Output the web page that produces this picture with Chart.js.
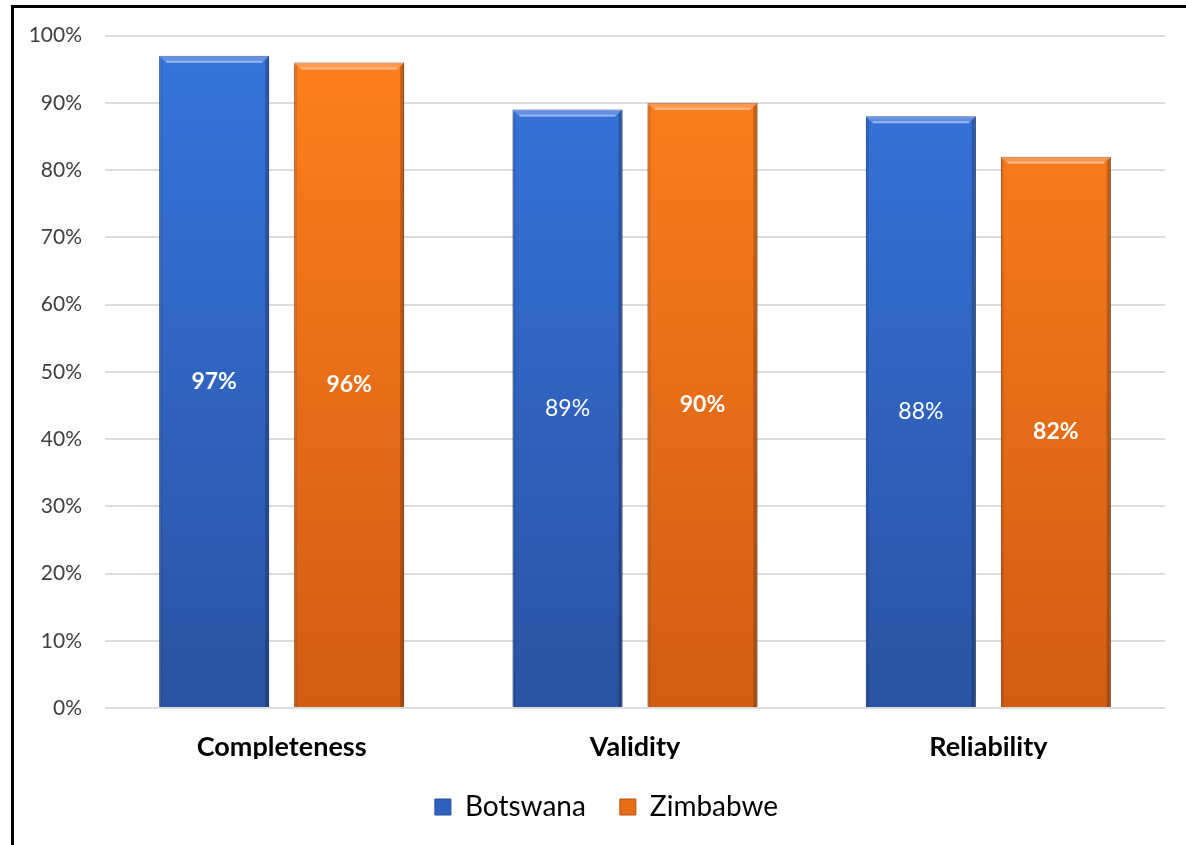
<!DOCTYPE html>
<html>
<head>
<meta charset="utf-8">
<script src="https://cdn.jsdelivr.net/npm/chart.js@4.4.0/dist/chart.umd.min.js"></script>
<style>
  html, body { margin: 0; padding: 0; background: #fff; }
  #wrap { width: 1186px; height: 845px; position: relative; }
</style>
</head>
<body>
<div id="wrap"><canvas id="myChart" width="1186" height="845"></canvas></div>
<script>
let labels = ['Completeness', 'Validity', 'Reliability'];
let botswana = [97, 89, 88];
let zimbabwe = [96, 90, 82];
let seriesNames = ['Botswana', 'Zimbabwe'];
// which value labels are printed in bold, per series
let boldLabels = [[true, false, false], [true, true, true]];

let gradTop = ['#3675de', '#ff801d'];
let gradBottom = ['#2a53a3', '#d15d13'];
let edgeColor = ['#254a92', '#b8500f'];
let legendFill = ['#2f62c0', '#e86d17'];
let fontFamily = 'Lato, "Open Sans", sans-serif';

function barFill(context) {
  let i = context.datasetIndex;
  let area = context.chart.chartArea;
  if (!area) return legendFill[i];
  let g = context.chart.ctx.createLinearGradient(0, area.top, 0, area.bottom);
  g.addColorStop(0, gradTop[i]);
  g.addColorStop(1, gradBottom[i]);
  return g;
}

// black frame along the top and left edges
const framePlugin = {
  id: 'frame',
  afterLayout(chart) {
    // keep the legend centred on the framed box rather than the canvas
    if (chart.legend) chart.legend.left += 48;
  },
  afterDraw(chart) {
    const c = chart.ctx;
    c.save();
    c.fillStyle = '#000';
    c.fillRect(11, 5, chart.width - 11, 3);
    c.fillRect(11, 5, 3, chart.height - 5);
    c.restore();
  }
};

// soft shadow under the bars, bevel edges on top, value labels in the middle
const bevelPlugin = {
  id: 'bevel',
  beforeDatasetsDraw(chart) {
    const c = chart.ctx;
    c.save();
    c.shadowColor = 'rgba(0,0,0,0.28)';
    c.shadowBlur = 7;
    c.shadowOffsetX = 1;
    c.shadowOffsetY = 1;
  },
  afterDatasetsDraw(chart) {
    const c = chart.ctx;
    c.restore();
    chart.data.datasets.forEach((ds, di) => {
      const meta = chart.getDatasetMeta(di);
      meta.data.forEach((bar, j) => {
        const l = bar.x - bar.width / 2, r = bar.x + bar.width / 2;
        const t = bar.y, b = bar.base;
        const bv = 7;
        c.save();
        // top bevel
        c.beginPath();
        c.moveTo(l, t); c.lineTo(r, t); c.lineTo(r - bv, t + bv); c.lineTo(l + bv, t + bv);
        c.closePath();
        c.fillStyle = 'rgba(255,255,255,0.22)';
        c.fill();
        c.fillStyle = 'rgba(255,255,255,0.35)';
        c.fillRect(l + bv, t + bv - 2, bar.width - 2 * bv, 2);
        // right edge
        c.beginPath();
        c.moveTo(r, t); c.lineTo(r, b); c.lineTo(r - 4, b); c.lineTo(r - 4, t + 4);
        c.closePath();
        c.fillStyle = 'rgba(0,0,0,0.22)';
        c.fill();
        // left edge
        c.fillStyle = 'rgba(0,0,0,0.10)';
        c.fillRect(l, t + 3, 3, b - t - 3);
        c.restore();

        // value label
        c.save();
        c.fillStyle = '#fff';
        c.font = (boldLabels[di][j] ? 'bold ' : '') + '23px ' + fontFamily;
        c.textAlign = 'center';
        c.textBaseline = 'middle';
        c.fillText(ds.data[j] + '%', bar.x, (t + b) / 2);
        c.restore();
      });
    });
  }
};

let ctx = document.getElementById('myChart').getContext('2d');

let myChart = new Chart(ctx, {
  type: 'bar',
  data: {
    labels: labels,
    datasets: [{
      label: seriesNames[0],
      data: botswana,
      backgroundColor: barFill,
      borderColor: edgeColor[0],
      borderWidth: 1
    }, {
      label: seriesNames[1],
      data: zimbabwe,
      backgroundColor: barFill,
      borderColor: edgeColor[1],
      borderWidth: 1
    }]
  },
  options: {
    responsive: false,
    animation: false,
    datasets: {
      bar: {
        categoryPercentage: 0.764,
        barPercentage: 0.815
      }
    },
    layout: {
      padding: { top: 35, right: 21, bottom: 14, left: 0 }
    },
    scales: {
      x: {
        grid: { display: false, drawTicks: false },
        border: { display: false },
        ticks: {
          padding: 23,
          color: '#000',
          font: { family: fontFamily, size: 27, weight: 'bold' }
        },
        afterFit: (scale) => { scale.height = 51; }
      },
      y: {
        min: 0,
        max: 100,
        grid: { color: '#dcdcdc', lineWidth: 2, drawTicks: false },
        border: { display: false },
        ticks: {
          stepSize: 10,
          padding: 23,
          color: '#404040',
          font: { family: fontFamily, size: 21 },
          callback: (v) => v + '%'
        },
        afterFit: (scale) => { scale.width = 105; }
      }
    },
    plugins: {
      tooltip: { enabled: false },
      legend: {
        display: true,
        position: 'bottom',
        labels: {
          color: '#000',
          boxWidth: 16,
          boxHeight: 16,
          padding: 34,
          font: { family: fontFamily, size: 28 },
          generateLabels: (chart) => chart.data.datasets.map((ds, i) => ({
            text: ds.label,
            fillStyle: legendFill[i],
            strokeStyle: edgeColor[i],
            lineWidth: 1,
            datasetIndex: i
          }))
        }
      }
    }
  },
  plugins: [bevelPlugin, framePlugin]
});
</script>
</body>
</html>
